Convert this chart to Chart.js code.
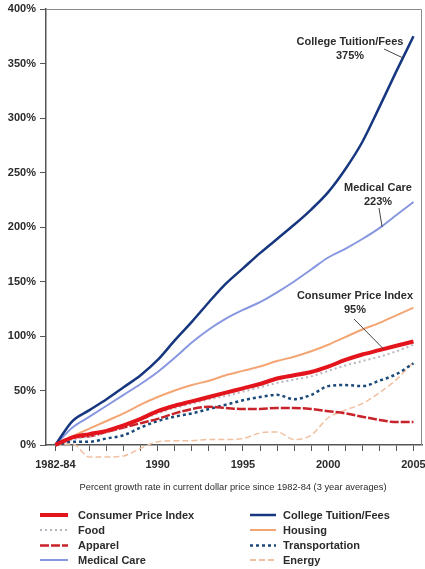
<!DOCTYPE html>
<html>
<head>
<meta charset="utf-8">
<script src="https://cdn.jsdelivr.net/npm/chart.js@4/dist/chart.umd.min.js"></script>
<style>
  html, body { margin: 0; padding: 0; background: #fff; }
  #wrap { width: 425px; height: 569px; position: relative; overflow: hidden; }
</style>
</head>
<body>
<div id="wrap"><canvas id="c" width="425" height="569"></canvas></div>
<script>
// Years on the horizontal axis (first point is the 1982-84 base period)
const years = [1984,1985,1986,1987,1988,1989,1990,1991,1992,1993,1994,1995,1996,1997,1998,1999,2000,2001,2002,2003,2004,2005];
const yearLabels = {1984: '1982-84', 1990: '1990', 1995: '1995', 2000: '2000', 2005: '2005'};

// Percent growth since 1982-84, per category
const cpi            = [0, 7, 10, 13, 18, 24, 31, 36, 40, 44, 48, 52, 56, 61, 64, 67, 72, 78, 83, 87, 91, 95];
const food           = [0, 5, 8, 12, 17, 23, 29, 34, 38, 42, 45, 49, 53, 57, 60, 63, 68, 73, 77, 81, 86, 92];
const apparel        = [0, 7, 8, 12, 16, 20, 24, 29, 33, 35, 34, 33, 33, 34, 34, 33, 31, 29, 26, 23, 21, 21];
const medical        = [0, 16, 26, 36, 46, 56, 67, 80, 94, 106, 116, 124, 131, 140, 150, 161, 172, 180, 189, 199, 211, 223];
const tuition        = [0, 22, 32, 42, 53, 64, 78, 96, 113, 131, 148, 162, 176, 189, 202, 216, 232, 253, 278, 310, 343, 375];
const housing        = [0, 8, 15, 22, 29, 37, 44, 50, 55, 59, 64, 68, 72, 77, 81, 86, 92, 99, 106, 112, 119, 126];
const transportation = [0, 3, 3, 6, 9, 16, 22, 26, 29, 33, 37, 41, 44, 46, 42, 46, 54, 55, 54, 59, 65, 75];
const energy         = [0, 1, -11, -11, -10, -3, 3, 4, 4, 5, 5, 6, 11, 12, 5, 9, 25, 32, 38, 48, 60, 76];

const yTicks = [0, 50, 100, 150, 200, 250, 300, 350, 400];

const pts = arr => years.map((yr, i) => ({ x: yr, y: arr[i] }));

const series = [
  { label: 'Consumer Price Index', data: cpi, color: '#e3141b', width: 4, dash: [], order: 0, col: 0, row: 0 },
  { label: 'Food', data: food, color: '#b9b4bd', width: 2, dash: [2, 3], order: 1, col: 0, row: 1 },
  { label: 'Apparel', data: apparel, color: '#c8232a', width: 2.5, dash: [9, 2], order: 2, col: 0, row: 2 },
  { label: 'Medical Care', data: medical, color: '#8797e0', width: 2, dash: [], order: 5, col: 0, row: 3 },
  { label: 'College Tuition/Fees', data: tuition, color: '#16367f', width: 2.5, dash: [], order: 4, col: 1, row: 0 },
  { label: 'Housing', data: housing, color: '#f3a674', width: 2, dash: [], order: 6, col: 1, row: 1 },
  { label: 'Transportation', data: transportation, color: '#1b4a78', width: 2.5, dash: [3, 3], order: 3, col: 1, row: 2 },
  { label: 'Energy', data: energy, color: '#f0c0a0', width: 1.5, dash: [6, 3], order: 7, col: 1, row: 3 }
];

const FONT = '"Liberation Sans", Arial, Helvetica, sans-serif';
const TEXT = '#2b2b2b';

// Frame, axis caption, value call-outs and the two-column key
const decorations = {
  id: 'decorations',
  beforeDatasetsDraw(chart) {
    const { ctx, chartArea: a } = chart;
    ctx.save();
    ctx.strokeStyle = '#8a8a8a';
    ctx.lineWidth = 1;
    ctx.beginPath();
    ctx.moveTo(a.left, a.top + 0.5);
    ctx.lineTo(a.right - 0.5, a.top + 0.5);
    ctx.lineTo(a.right - 0.5, a.bottom);
    ctx.stroke();
    ctx.restore();
  },
  afterDatasetsDraw(chart) {
    const { ctx, scales: { x, y } } = chart;
    ctx.save();
    ctx.fillStyle = TEXT;
    ctx.textAlign = 'center';
    ctx.textBaseline = 'middle';

    // call-outs: text block plus a leader to the series line
    const callouts = [
      { lines: ['College Tuition/Fees', '375%'], cx: 350, cy: 42, from: [384, 49], to: [2004.4, 355] },
      { lines: ['Medical Care', '223%'], cx: 378, cy: 188, from: [379, 208], to: [2003.16, 200] },
      { lines: ['Consumer Price Index', '95%'], cx: 355, cy: 296, from: [354, 319], to: [2003.22, 88.5] }
    ];
    ctx.font = 'bold 11px ' + FONT;
    callouts.forEach(c => {
      c.lines.forEach((t, i) => ctx.fillText(t, c.cx, c.cy + i * 14));
      ctx.strokeStyle = '#444';
      ctx.lineWidth = 1;
      ctx.beginPath();
      ctx.moveTo(c.from[0], c.from[1]);
      ctx.lineTo(x.getPixelForValue(c.to[0]), y.getPixelForValue(c.to[1]));
      ctx.stroke();
    });

    // axis caption
    ctx.font = '9.3px ' + FONT;
    ctx.fillText('Percent growth rate in current dollar price since 1982-84 (3 year averages)', 233, 487);

    // key
    const colX = [{ l0: 40, l1: 68, t: 78 }, { l0: 250, l1: 276, t: 283 }];
    const rowY = [515, 530, 545.5, 560];
    ctx.font = 'bold 11px ' + FONT;
    ctx.textAlign = 'left';
    chart.data.datasets.forEach((ds, i) => {
      const s = series[i];
      const c = colX[s.col];
      const yy = rowY[s.row];
      ctx.strokeStyle = ds.borderColor;
      ctx.lineWidth = Math.max(ds.borderWidth, 2);
      ctx.setLineDash(ds.borderDash);
      ctx.beginPath();
      ctx.moveTo(c.l0, yy);
      ctx.lineTo(c.l1, yy);
      ctx.stroke();
      ctx.setLineDash([]);
      ctx.fillStyle = TEXT;
      ctx.fillText(ds.label, c.t, yy + 0.5);
    });
    ctx.restore();
  }
};

new Chart(document.getElementById('c'), {
  type: 'line',
  data: {
    datasets: series.map(s => ({
      label: s.label,
      data: pts(s.data),
      borderColor: s.color,
      backgroundColor: s.color,
      borderWidth: s.width,
      borderDash: s.dash,
      pointRadius: 0,
      cubicInterpolationMode: 'monotone',
      fill: false,
      clip: false,
      order: s.order
    }))
  },
  options: {
    responsive: false,
    animation: false,
    devicePixelRatio: 1,
    layout: { padding: { top: 9, right: 3, left: 0, bottom: 0 } },
    plugins: { legend: { display: false }, tooltip: { enabled: false } },
    scales: {
      x: {
        type: 'linear',
        min: 1983.45,
        max: 2005.5,
        afterBuildTicks(scale) { scale.ticks = years.map(v => ({ value: v })); },
        afterFit(scale) { scale.height = 124; scale.paddingLeft = 0; scale.paddingRight = 0; },
        ticks: {
          autoSkip: false,
          maxRotation: 0,
          padding: 7,
          color: TEXT,
          font: { family: FONT, size: 11, weight: 'bold' },
          callback: v => yearLabels[v] || ''
        },
        grid: { drawOnChartArea: false, drawTicks: true, tickLength: 6, color: '#555', lineWidth: 1 },
        border: { display: true, color: '#555', width: 1.5 }
      },
      y: {
        min: 0,
        max: 400,
        afterBuildTicks(scale) { scale.ticks = yTicks.map(v => ({ value: v })); },
        afterFit(scale) { scale.width = 46; scale.paddingTop = 0; scale.paddingBottom = 0; },
        ticks: {
          padding: 4,
          color: TEXT,
          font: { family: FONT, size: 11, weight: 'bold' },
          callback: v => v + '%'
        },
        grid: { drawOnChartArea: false, drawTicks: true, tickLength: 6, color: '#555', lineWidth: 1 },
        border: { display: true, color: '#555', width: 1.5 }
      }
    }
  },
  plugins: [decorations]
});
</script>
</body>
</html>
